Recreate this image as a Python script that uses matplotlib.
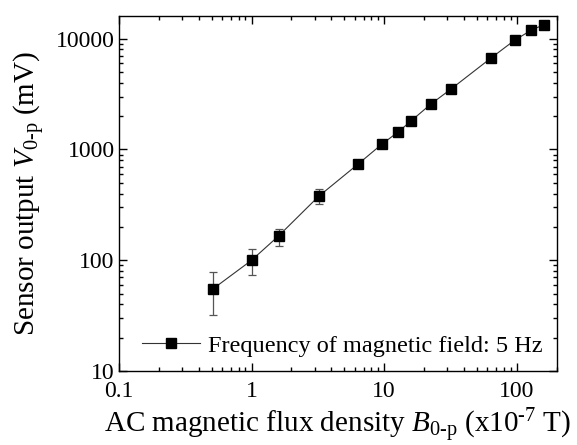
import numpy as np
import matplotlib
matplotlib.use('Agg')
import matplotlib.pyplot as plt
from matplotlib.ticker import LogLocator, FixedLocator, FixedFormatter, NullFormatter

# dados
b_field = [0.51, 1.0, 1.6, 3.2, 6.4, 9.6, 12.8, 16.0, 22.4, 32.0, 64.0, 96.0, 128.0, 160.0]
v_out = [55, 100, 166, 377, 743, 1116, 1445, 1815, 2560, 3520, 6700, 9660, 11900, 13370]
err_low = [23, 27, 30, 57, 0, 0, 0, 0, 0, 0, 0, 0, 0, 0]
err_high = [24, 27, 27, 59, 0, 0, 0, 0, 0, 0, 0, 0, 0, 0]
x_ticks = [0.1, 1, 10, 100]
x_labels = ['0.1', '1', '10', '100']
y_ticks = [10, 100, 1000, 10000]
y_labels = ['10', '100', '1000', '10000']

plt.rcParams['font.family'] = ['Liberation Serif', 'DejaVu Serif']
plt.rcParams['mathtext.fontset'] = 'custom'
plt.rcParams['mathtext.rm'] = 'Liberation Serif'
plt.rcParams['mathtext.it'] = 'Liberation Serif:italic'
plt.rcParams['mathtext.bf'] = 'Liberation Serif:bold'

fig = plt.figure(figsize=(5.77, 4.45), dpi=100)
ax = fig.add_axes([0.206, 0.166, 0.759, 0.798])

ax.errorbar(b_field, v_out, yerr=[err_low, err_high], fmt='none', ecolor='#555555',
            elinewidth=0.9, capsize=3, capthick=0.9)
ax.plot(b_field, v_out, '-', color='#333333', lw=0.8, marker='s', ms=7,
        mfc='black', mec='black', label='Frequency of magnetic field: 5 Hz')

ax.set_xscale('log')
ax.set_yscale('log')
ax.set_xlim(0.1, 200)
ax.set_ylim(10, 16000)

ax.xaxis.set_major_locator(FixedLocator(x_ticks))
ax.xaxis.set_major_formatter(FixedFormatter(x_labels))
ax.yaxis.set_major_locator(FixedLocator(y_ticks))
ax.yaxis.set_major_formatter(FixedFormatter(y_labels))
ax.xaxis.set_minor_locator(LogLocator(base=10, subs=np.arange(2, 10), numticks=20))
ax.yaxis.set_minor_locator(LogLocator(base=10, subs=np.arange(2, 10), numticks=20))
ax.xaxis.set_minor_formatter(NullFormatter())
ax.yaxis.set_minor_formatter(NullFormatter())

ax.tick_params(which='both', direction='in', top=True, right=True, labelsize=17, width=1)
ax.tick_params(which='major', length=6)
ax.tick_params(which='minor', length=3)
ax.tick_params(axis='x', pad=7)
ax.tick_params(axis='y', pad=3)
for s in ax.spines.values():
    s.set_linewidth(1)

ax.set_xlabel(r'AC magnetic flux density $B_{\text{0-p}}$ (x10$^{\text{-7}}$ T)', fontsize=21, labelpad=3)
ax.set_ylabel(r'Sensor output $V_{\text{0-p}}$ (mV)', fontsize=21, labelpad=6)

ax.legend(loc='lower right', frameon=False, fontsize=17.5, handlelength=2.4,
          borderaxespad=0.2, handletextpad=0.3)

plt.savefig('out.png', dpi=100)
